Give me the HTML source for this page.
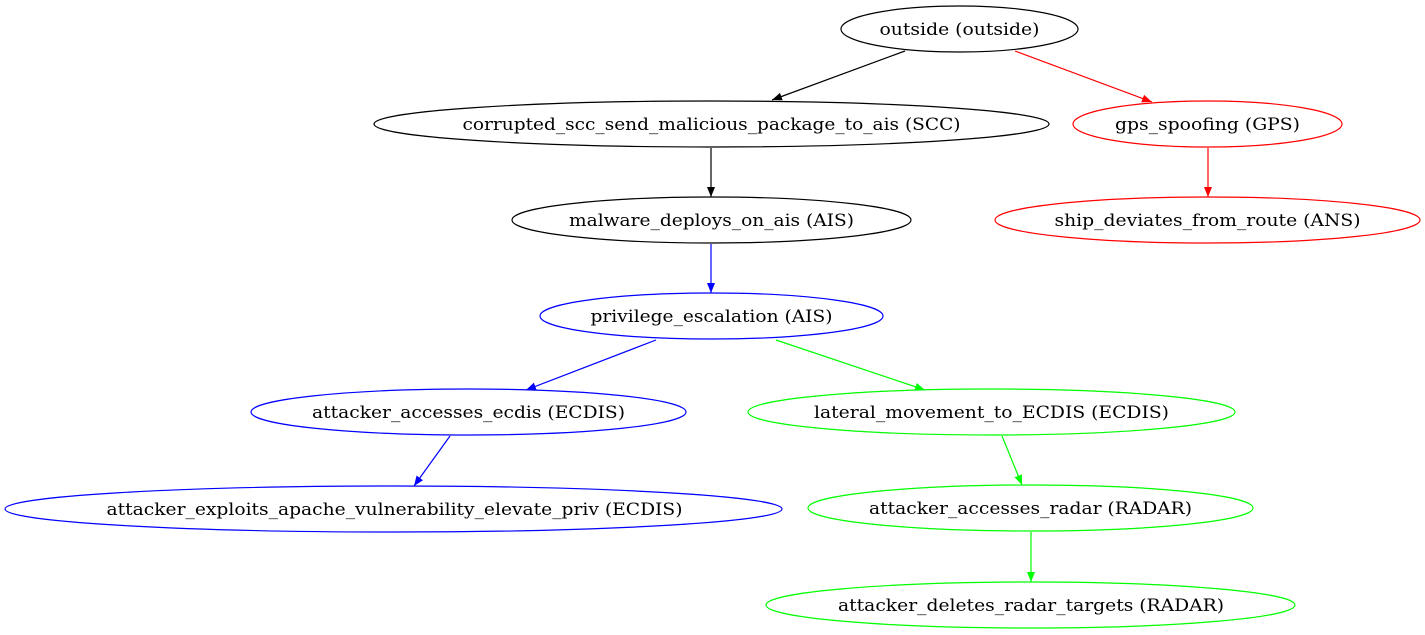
<!DOCTYPE html>
<html><head><meta charset="utf-8"><style>html,body{margin:0;padding:0;background:#fff}svg{display:block}</style></head>
<body>
<svg width="1425" height="635" viewBox="0 0 1425 635" xmlns="http://www.w3.org/2000/svg" font-family="'DejaVu Serif', 'Liberation Serif', serif" font-size="17" text-anchor="middle">
<defs>
<marker id="mk" markerWidth="10" markerHeight="8" refX="10" refY="4" orient="auto" markerUnits="userSpaceOnUse"><polygon points="0,0 10,4 0,8" fill="#000"/></marker>
<marker id="mr" markerWidth="10" markerHeight="8" refX="10" refY="4" orient="auto" markerUnits="userSpaceOnUse"><polygon points="0,0 10,4 0,8" fill="#f00"/></marker>
<marker id="mb" markerWidth="10" markerHeight="8" refX="10" refY="4" orient="auto" markerUnits="userSpaceOnUse"><polygon points="0,0 10,4 0,8" fill="#00f"/></marker>
<marker id="mg" markerWidth="10" markerHeight="8" refX="10" refY="4" orient="auto" markerUnits="userSpaceOnUse"><polygon points="0,0 10,4 0,8" fill="#0f0"/></marker>
</defs>
<g fill="none" stroke-width="1.2">
<ellipse cx="959.5" cy="29" rx="118.5" ry="23" stroke="#000"/>
<ellipse cx="711.5" cy="124" rx="337.5" ry="23" stroke="#000"/>
<ellipse cx="1207.5" cy="124" rx="134.5" ry="23" stroke="#f00"/>
<ellipse cx="711.5" cy="220" rx="199.5" ry="23" stroke="#000"/>
<ellipse cx="1207.5" cy="220" rx="212.5" ry="23" stroke="#f00"/>
<ellipse cx="711.5" cy="316" rx="171.5" ry="23" stroke="#00f"/>
<ellipse cx="468.5" cy="412" rx="217.5" ry="23" stroke="#00f"/>
<ellipse cx="991.5" cy="412" rx="243.5" ry="23" stroke="#0f0"/>
<ellipse cx="393.5" cy="509" rx="388.5" ry="23" stroke="#00f"/>
<ellipse cx="1030.5" cy="508" rx="222.5" ry="23" stroke="#0f0"/>
<ellipse cx="1030.5" cy="605" rx="264.5" ry="23" stroke="#0f0"/>
<line x1="905" y1="51" x2="772" y2="100" stroke="#000" marker-end="url(#mk)"/>
<line x1="1015" y1="51" x2="1152" y2="102" stroke="#f00" marker-end="url(#mr)"/>
<line x1="711" y1="148" x2="711" y2="197" stroke="#000" marker-end="url(#mk)"/>
<line x1="1208" y1="148" x2="1208" y2="197" stroke="#f00" marker-end="url(#mr)"/>
<line x1="711" y1="244" x2="711" y2="293" stroke="#00f" marker-end="url(#mb)"/>
<line x1="656" y1="340" x2="526" y2="390" stroke="#00f" marker-end="url(#mb)"/>
<line x1="776" y1="340" x2="925" y2="390" stroke="#0f0" marker-end="url(#mg)"/>
<line x1="450" y1="436" x2="414" y2="486" stroke="#00f" marker-end="url(#mb)"/>
<line x1="1002" y1="436" x2="1022" y2="485" stroke="#0f0" marker-end="url(#mg)"/>
<line x1="1031" y1="532" x2="1031" y2="582" stroke="#0f0" marker-end="url(#mg)"/>
</g>
<g fill="#000">
<text x="959.5" y="35" textLength="160" lengthAdjust="spacingAndGlyphs">outside (outside)</text>
<text x="711.5" y="130" textLength="498" lengthAdjust="spacingAndGlyphs">corrupted_scc_send_malicious_package_to_ais (SCC)</text>
<text x="1207.5" y="130" textLength="185" lengthAdjust="spacingAndGlyphs">gps_spoofing (GPS)</text>
<text x="711.5" y="226" textLength="285" lengthAdjust="spacingAndGlyphs">malware_deploys_on_ais (AIS)</text>
<text x="1207.5" y="226" textLength="306" lengthAdjust="spacingAndGlyphs">ship_deviates_from_route (ANS)</text>
<text x="711.5" y="322" textLength="242" lengthAdjust="spacingAndGlyphs">privilege_escalation (AIS)</text>
<text x="468.5" y="418" textLength="313" lengthAdjust="spacingAndGlyphs">attacker_accesses_ecdis (ECDIS)</text>
<text x="991.5" y="418" textLength="355" lengthAdjust="spacingAndGlyphs">lateral_movement_to_ECDIS (ECDIS)</text>
<text x="394.5" y="515" textLength="576" lengthAdjust="spacingAndGlyphs">attacker_exploits_apache_vulnerability_elevate_priv (ECDIS)</text>
<text x="1030.5" y="514" textLength="323" lengthAdjust="spacingAndGlyphs">attacker_accesses_radar (RADAR)</text>
<text x="1031" y="611" textLength="386" lengthAdjust="spacingAndGlyphs">attacker_deletes_radar_targets (RADAR)</text>
</g>
</svg>
</body></html>
